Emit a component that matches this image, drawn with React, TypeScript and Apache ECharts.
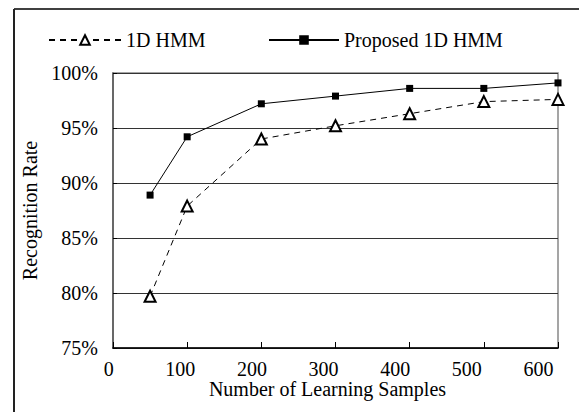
import React, { useEffect, useRef } from "react";
import * as echarts from "echarts";

const samples = [50, 100, 200, 300, 400, 500, 600];
const hmm1D = [79.7, 87.9, 94.0, 95.2, 96.3, 97.4, 97.6];
const proposed = [88.9, 94.2, 97.2, 97.9, 98.6, 98.6, 99.1];
const seriesNames = ["1D HMM", "Proposed 1D HMM"];
const xMin = 0;
const xMax = 600;
const xStep = 100;
const yMin = 75;
const yMax = 100;
const yStep = 5;

const FONT = "'Liberation Serif', 'Times New Roman', serif";
const FS = 20;

export default function App() {
  const ref = useRef<HTMLDivElement>(null);
  useEffect(() => {
    if (!ref.current) return;
    const chart = echarts.init(ref.current, null, { renderer: "svg" });
    const pairs = (ys: number[]) => samples.map((x, i) => [x, ys[i]]);
    chart.setOption({
      animation: false,
      backgroundColor: "#fff",
      textStyle: { fontFamily: FONT, color: "#000" },
      grid: [
        {
          left: 113,
          top: 73,
          right: 21,
          bottom: 64,
          show: true,
          borderColor: "#888",
          borderWidth: 1.5,
          backgroundColor: "transparent",
        },
        {
          left: 108.7,
          top: 73,
          right: 40.5,
          bottom: 64,
          show: false,
        },
      ],
      legend: [
        {
          data: [seriesNames[0]],
          left: 48,
          top: 30,
          padding: 0,
          itemWidth: 72,
          itemHeight: 12,
          textStyle: { fontFamily: FONT, fontSize: FS, color: "#000" },
        },
        {
          data: [seriesNames[1]],
          left: 268,
          top: 30,
          padding: 0,
          itemWidth: 70,
          itemHeight: 12,
          textStyle: { fontFamily: FONT, fontSize: FS, color: "#000" },
        },
      ],
      xAxis: [
        {
          type: "value",
          gridIndex: 0,
          min: xMin,
          max: xMax,
          interval: xStep,
          name: "Number of Learning Samples",
          nameLocation: "middle",
          nameGap: 31,
          nameTextStyle: {
            fontFamily: FONT,
            fontSize: FS,
            lineHeight: 20,
            color: "#000",
            padding: [0, 16, 0, 0],
          },
          axisLine: { show: true, lineStyle: { color: "#000", width: 1.5 } },
          axisTick: { show: true, inside: true, length: 6, lineStyle: { color: "#000", width: 1 } },
          axisLabel: { show: false },
          splitLine: { show: false },
        },
        {
          type: "value",
          gridIndex: 1,
          min: xMin,
          max: xMax,
          interval: xStep,
          axisLine: { show: false },
          axisTick: { show: false },
          splitLine: { show: false },
          axisLabel: {
            show: true,
            margin: 11,
            fontFamily: FONT,
            fontSize: FS,
            lineHeight: 20,
            color: "#000",
          },
        },
      ],
      yAxis: [
        {
          type: "value",
          gridIndex: 0,
          min: yMin,
          max: yMax,
          interval: yStep,
          name: "Recognition Rate",
          nameLocation: "middle",
          nameGap: 71,
          nameTextStyle: { fontFamily: FONT, fontSize: FS, color: "#000" },
          axisLine: { show: true, lineStyle: { color: "#555", width: 1.5 } },
          axisTick: { show: true, inside: true, length: 4, lineStyle: { color: "#000" } },
          axisLabel: {
            margin: 15,
            fontFamily: FONT,
            fontSize: FS,
            color: "#000",
            formatter: (v: number) => v + "%",
          },
          splitLine: { show: true, lineStyle: { color: "#333", width: 1 } },
        },
        {
          type: "value",
          gridIndex: 1,
          min: yMin,
          max: yMax,
          show: false,
        },
      ],
      graphic: [
        { type: "line", shape: { x1: 14, y1: 9, x2: 579, y2: 9 }, style: { stroke: "#000", lineWidth: 1.5 } },
        { type: "line", shape: { x1: 14, y1: 9, x2: 14, y2: 412 }, style: { stroke: "#222", lineWidth: 2 } },
      ],
      series: [
        {
          name: seriesNames[0],
          type: "line",
          xAxisIndex: 0,
          yAxisIndex: 0,
          data: pairs(hmm1D),
          symbol: "emptyTriangle",
          symbolSize: 11,
          lineStyle: { color: "#000", width: 1, type: [6, 5] },
          itemStyle: { color: "#000", borderColor: "#000", borderWidth: 2.5 },
          z: 3,
        },
        {
          name: seriesNames[1],
          type: "line",
          xAxisIndex: 0,
          yAxisIndex: 0,
          data: pairs(proposed),
          symbol: "rect",
          symbolSize: 7,
          lineStyle: { color: "#000", width: 1 },
          itemStyle: { color: "#000" },
          z: 4,
        },
      ],
    });
    return () => chart.dispose();
  }, []);
  return (
    <div
      ref={ref}
      style={{ position: "fixed", left: 0, top: 0, width: 579, height: 412, background: "#fff" }}
    />
  );
}
